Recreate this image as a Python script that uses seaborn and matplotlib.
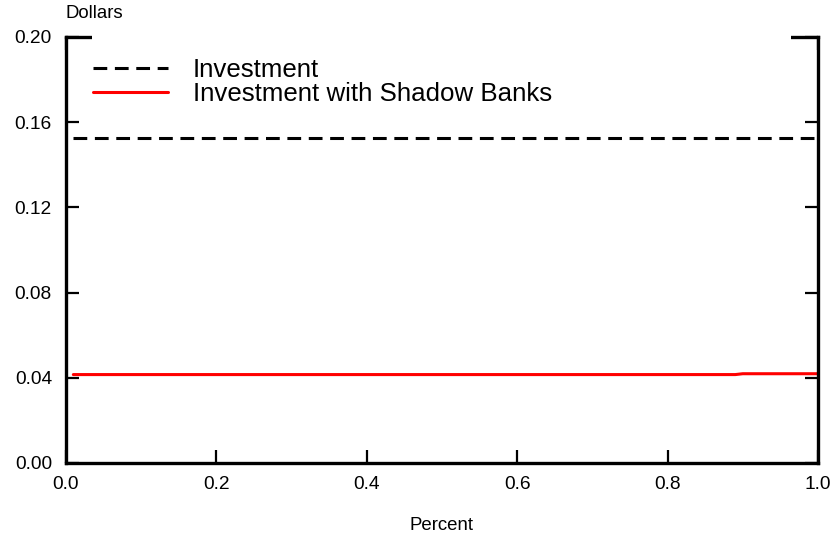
import numpy as np
import pandas as pd
import matplotlib
matplotlib.use("Agg")
import matplotlib.pyplot as plt
import seaborn as sns

# values
percent = [0.01, 0.10, 0.20, 0.30, 0.40, 0.50, 0.60, 0.70, 0.80, 0.89, 0.90, 1.00]
investment = [0.1525, 0.1525, 0.1525, 0.1525, 0.1525, 0.1525,
              0.1525, 0.1525, 0.1525, 0.1525, 0.1525, 0.1525]
investment_shadow = [0.0415, 0.0415, 0.0415, 0.0415, 0.0415, 0.0415,
                     0.0415, 0.0415, 0.0415, 0.0415, 0.0419, 0.0419]
series_names = ["Investment", "Investment with Shadow Banks"]

df = pd.concat([
    pd.DataFrame({"Percent": percent, "Dollars": investment, "series": series_names[0]}),
    pd.DataFrame({"Percent": percent, "Dollars": investment_shadow, "series": series_names[1]}),
])

sns.set_style("ticks")
plt.rcParams["font.family"] = ["Liberation Sans", "DejaVu Sans"]
plt.rcParams["text.color"] = "black"
plt.rcParams["axes.labelcolor"] = "black"
plt.rc("xtick", labelsize=13.8, color="black")
plt.rc("ytick", labelsize=13.8, color="black")

fig = plt.figure(figsize=(8.33, 5.35), dpi=100)
ax = fig.add_axes([0.079, 0.1346, 0.903, 0.7964])

sns.lineplot(data=df, x="Percent", y="Dollars", hue="series", style="series",
             palette={series_names[0]: "black", series_names[1]: "#ff0000"},
             dashes={series_names[0]: (4.5, 2.5), series_names[1]: ""},
             linewidth=2.2, ax=ax, legend=True)

ax.set_xlim(0, 1)
ax.set_ylim(0, 0.2)
ax.set_xticks([0.0, 0.2, 0.4, 0.6, 0.8, 1.0])
ax.set_xticklabels(["0.0", "0.2", "0.4", "0.6", "0.8", "1.0"])
ax.set_yticks([0.0, 0.04, 0.08, 0.12, 0.16, 0.20])
ax.set_yticklabels(["0.00", "0.04", "0.08", "0.12", "0.16", "0.20"])
ax.tick_params(direction="in", length=9.5, width=1.6, top=True, right=True, color="black")
ax.tick_params(axis="x", pad=9.5)
ax.tick_params(axis="y", pad=10)
for s in ax.spines.values():
    s.set_linewidth(2.4)
    s.set_color("black")

ax.set_xlabel("Percent", fontsize=13.4, labelpad=17)
ax.set_ylabel("")
ax.text(0.0, 1.035, "Dollars", transform=ax.transAxes, ha="left", va="bottom", fontsize=13.4)

# legend with white frame sits over the top spine, like the reference
handles, labels = ax.get_legend_handles_labels()
leg = ax.legend(handles, labels, loc="upper left", bbox_to_anchor=(0.0346, 0.0, 0.930, 1.01),
                mode="expand", borderaxespad=0, borderpad=0.05, fontsize=18.6,
                labelspacing=0.0, handlelength=2.9, handletextpad=0.95,
                title=" ", title_fontsize=18.0,
                frameon=True, fancybox=False, edgecolor="none", facecolor="white", framealpha=1)
leg.set_zorder(5)

fig.savefig("out.png", dpi=100)
